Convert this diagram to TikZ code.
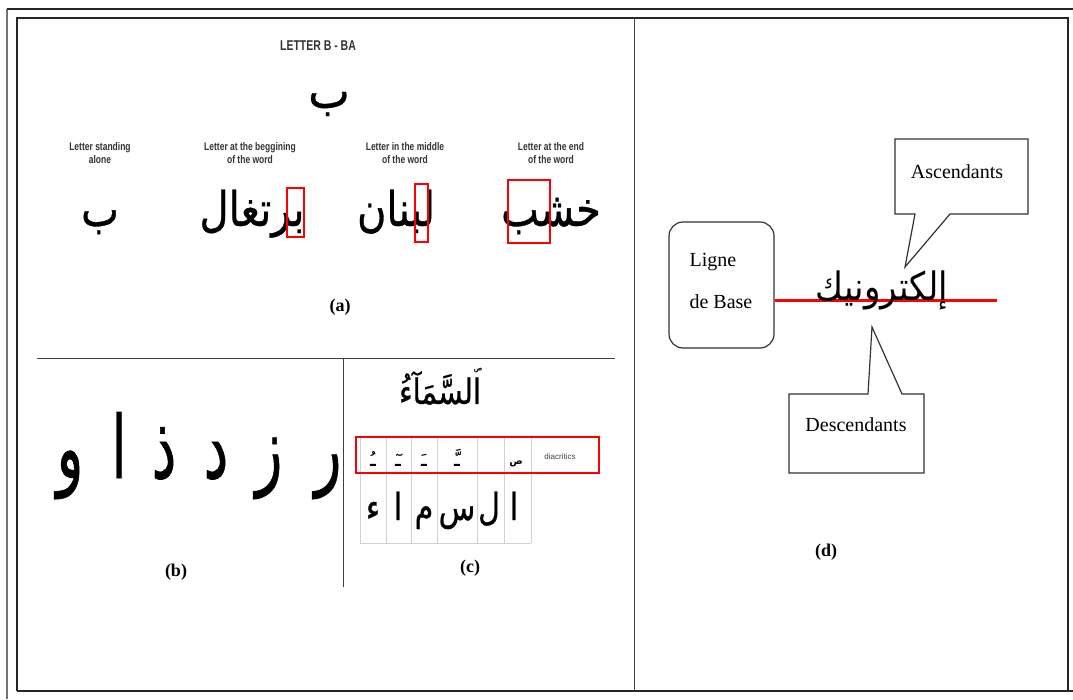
\documentclass[tikz,border=0pt]{standalone}
\usepackage{fontspec}
\setmainfont{Liberation Serif}
\newfontfamily\arabicfont[Script=Arabic]{DejaVu Sans}
\newfontfamily\arabicmid[Script=Arabic,FakeBold=0.8]{DejaVu Sans}
\newfontfamily\labfont{Liberation Sans}
\TeXXeTstate=1
\begin{document}
\begin{tikzpicture}[x=1pt,y=-1pt,
  frame/.style={line width=1.3pt,black!85},
  divider/.style={line width=1pt,black!75},
  redbox/.style={draw=red,line width=1.3pt},
  grid/.style={draw=black!18,line width=0.5pt},
  ar/.style={inner sep=0pt},
  small/.style={font=\labfont\bfseries\fontsize{8.5}{10}\selectfont,text=black!80,align=center,yscale=1.3,transform shape},
  caplab/.style={font=\bfseries\fontsize{18}{20}\selectfont},
  lab/.style={font=\fontsize{20}{24}\selectfont},
  callout/.style={draw=black!80,line width=1.2pt,line join=miter}
]
\useasboundingbox (0,0) rectangle (1073,699);
% outer frame
\draw[line width=1.3pt,black!55] (7,699) -- (7,9);
\draw[line width=1.3pt,black!85] (7,9) -- (1073,9);
\draw[frame] (17,691) -- (17,18) -- (1068,18) -- (1068,691);
\draw[frame] (17,691) -- (1073,691);
\draw[divider] (634,18) -- (634,691);
\draw[divider] (37,358) -- (615,358);
\draw[divider] (343,358) -- (343,587);

% ---------- panel (a)
\node[font=\labfont\bfseries\fontsize{10.5}{12}\selectfont,text=black!80,yscale=1.35,transform shape] (title) at (318,46) {LETTER B - BA};
\node[ar,font=\arabicmid\fontsize{44}{44}\selectfont,yscale=1.1,transform shape] (bigba) at (329,104) {ب};
\node[small] (l1) at (100,153) {Letter standing\\alone};
\node[small] (l2) at (250,153) {Letter at the beggining\\of the word};
\node[small] (l3) at (405,153) {Letter in the middle\\of the word};
\node[small] (l4) at (551,153) {Letter at the end\\of the word};
\begin{scope}[every node/.style={ar,font=\arabicmid\fontsize{40}{40}\selectfont,anchor=base,yscale=1.2,transform shape}]
\node (w1) at (100,226) {ب};
\node (w2) at (252,226) {\beginR برتغال\endR};
\node (w3) at (396,226) {\beginR لبنان\endR};
\node (w4) at (551,226) {\beginR خشب\endR};
\end{scope}
\draw[redbox] (287,188) rectangle (304,237);
\draw[redbox] (415,184) rectangle (428,242);
\draw[redbox] (508,180) rectangle (550,243);
\node[caplab] (capa) at (340,307) {(a)};

% ---------- panel (b)
\foreach \x/\c/\n in {70/و/b1,119/ا/b2,164/ذ/b3,216/د/b4,269/ز/b5,328/ر/b6}{
  \node[ar,font=\arabicmid\fontsize{62}{62}\selectfont,anchor=base,xscale=0.9,yscale=1.4,transform shape] (\n) at (\x,478) {\c};
}
\node[caplab] (capb) at (176,572) {(b)};

% ---------- panel (c)
\node[ar,font=\arabicmid\fontsize{29}{29}\selectfont,yscale=1.2,transform shape] (sama) at (440,388) {\beginR السَّمَآءُ\endR};
\node[ar,font=\arabicmid\fontsize{7}{7}\selectfont] (wasla) at (478,370) {ص};
\foreach \x in {360,386,411,437,477,504,531}{
  \draw[grid] (\x,437) -- (\x,543);
}
\draw[grid] (360,543) -- (531,543);
\draw[grid] (360,473) -- (531,473);
\draw[redbox] (356,437) rectangle (599,473);
\foreach \x/\c/\n in {373/ـُ/d1,398/ـٓ/d2,424/ـَ/d3,457/ـَّ/d4}{
  \node[ar,font=\arabicfont\bfseries\fontsize{17}{17}\selectfont,anchor=base] (\n) at (\x,466) {\c};
}
\node[ar,font=\arabicfont\bfseries\fontsize{10}{10}\selectfont,anchor=base] (d6) at (516,464) {ص};
\node[font=\labfont\fontsize{8}{9}\selectfont,text=black!75] (diac) at (560,457) {diacritics};
\foreach \x/\c/\n in {373/ء/e1,398/ا/e2,424/م/e3,457/س/e4,489/ل/e5,514/ا/e6}{
  \node[ar,font=\arabicmid\fontsize{30}{30}\selectfont,anchor=base,yscale=1.25,transform shape] (\n) at (\x,520) {\c};
}
\node[caplab] (capc) at (470,568) {(c)};

% ---------- panel (d)
\node[draw=black!80,line width=1.2pt,rounded corners=14pt,minimum width=105pt,minimum height=126pt] (ligne) at (721.5,285) {};
\node[lab,anchor=west] (lg1) at (686,262) {Ligne};
\node[lab,anchor=west] (lg2) at (686,302) {de Base};
\coordinate (bl) at (997,300);
\draw[red,line width=3pt] (ligne.east |- bl) -- (bl);
\node[ar,font=\arabicfont\fontsize{34}{34}\selectfont,anchor=base,yscale=1.15,transform shape] (word) at (882,300) {\beginR إلكترونيك\endR};
\draw[callout] (895,139) -- (1028,139) -- (1028,214) -- (950,214) -- (905,267) -- (915,214) -- (895,214) -- cycle;
\node[lab] (asc) at (957,172) {Ascendants};
\draw[callout] (789,394) -- (868,394) -- (872,327) -- (902,394) -- (924,394) -- (924,473) -- (789,473) -- cycle;
\node[lab] (desc) at (856,425) {Descendants};
\node[caplab] (capd) at (826,552) {(d)};
\end{tikzpicture}
\end{document}
